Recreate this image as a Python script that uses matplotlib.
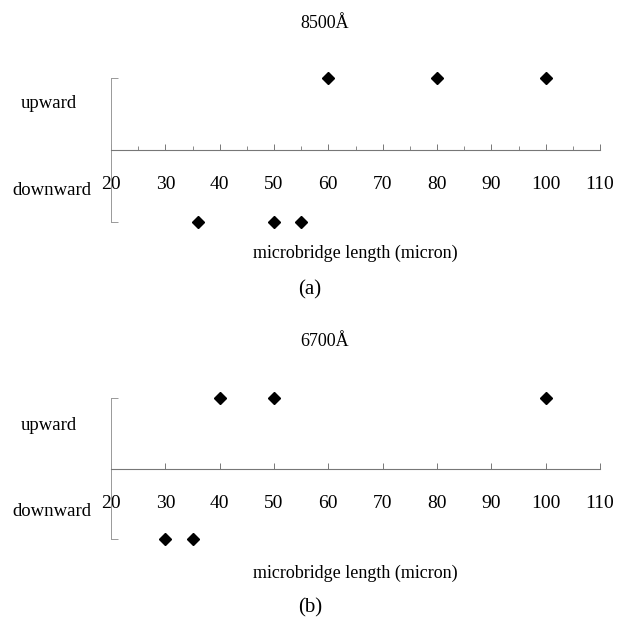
import matplotlib.pyplot as plt

plt.rcParams['font.family'] = 'Liberation Serif'

# panel (a): 8500 A
up_a = [60, 80, 100]
down_a = [36, 50, 55]
# panel (b): 6700 A
up_b = [40, 50, 100]
down_b = [30, 35]

xticks = [20, 30, 40, 50, 60, 70, 80, 90, 100, 110]
titles = ['8500Å', '6700Å']
tags = ['(a)', '(b)']
xlabel = 'microbridge length (micron)'

fig = plt.figure(figsize=(6.29, 6.22), dpi=100)
W, H = 629, 622


def px(x, y):
    return x / W, 1 - y / H


def draw_panel(rect, up, down, minor, title, tag, ty, up_y, down_y, lab_y, tag_y):
    ax = fig.add_axes(rect)
    ax.plot(up, [1] * len(up), 'D', color='black', markersize=6.5, clip_on=False)
    ax.plot(down, [-1] * len(down), 'D', color='black', markersize=6.5, clip_on=False)
    ax.set_xlim(20, 110)
    ax.set_ylim(-1.25, 1.25)

    for s in ['top', 'right']:
        ax.spines[s].set_visible(False)
    ax.spines['bottom'].set_position(('data', 0))
    ax.spines['bottom'].set_color('#777777')
    ax.spines['bottom'].set_linewidth(0.8)
    ax.spines['left'].set_bounds(-1, 1)
    ax.spines['left'].set_color('#999999')
    ax.spines['left'].set_linewidth(0.7)

    ax.set_xticks(xticks)
    ax.set_xticklabels([str(t) for t in xticks], fontsize=14)
    ax.tick_params(axis='x', direction='in', length=4, width=0.7,
                   color='#777777', pad=19)
    if minor:
        ax.set_xticks([t + 5 for t in xticks[:-1]], minor=True)
        ax.tick_params(axis='x', which='minor', direction='in', length=3,
                       width=0.6, color='#777777')
    ax.set_yticks([-1, 1])
    ax.set_yticklabels(['', ''])
    ax.tick_params(axis='y', direction='in', length=5, width=0.7, color='#999999')

    fig.text(*px(49, up_y), 'upward', ha='center', va='center', fontsize=13.5)
    fig.text(*px(52, down_y), 'downward', ha='center', va='center', fontsize=13.5)

    fig.text(*px(325, ty), title, ha='center', va='center', fontsize=13)
    fig.text(*px(355, lab_y), xlabel, ha='center', va='center', fontsize=13)
    fig.text(*px(310, tag_y), tag, ha='center', va='center', fontsize=15)
    return ax


# axes spans: x 20->110 maps to px 111->600
left, width = 111 / W, 489 / W
draw_panel([left, 1 - 239.5 / H, width, 179 / H], up_a, down_a, True,
           titles[0], tags[0], 23, 103, 191, 253, 290)
draw_panel([left, 1 - 557 / H, width, 177 / H], up_b, down_b, False,
           titles[1], tags[1], 342, 425, 512, 573, 608)

fig.savefig('out.png', dpi=100)
